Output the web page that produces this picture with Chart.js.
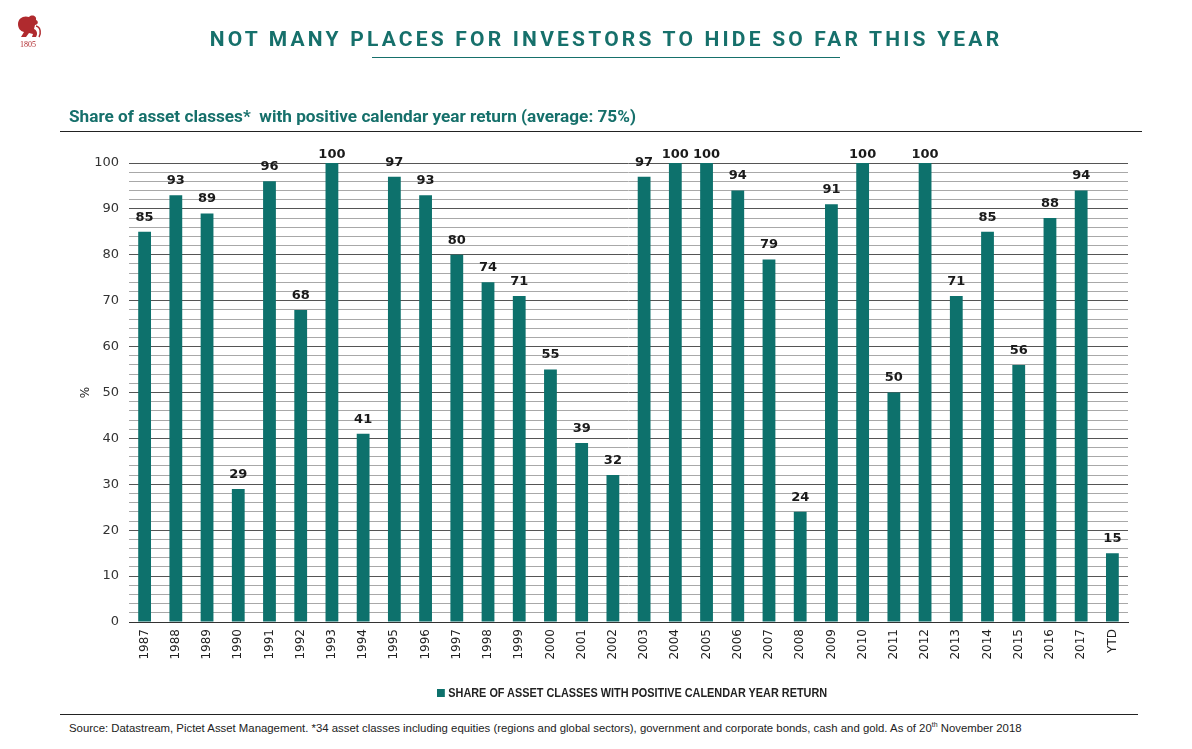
<!DOCTYPE html>
<html>
<head>
<meta charset="utf-8">
<script src="https://cdn.jsdelivr.net/npm/chart.js@4.4.1/dist/chart.umd.min.js"></script>
<style>
  html, body { margin: 0; padding: 0; background: #fff; width: 1192px; height: 749px; overflow: hidden; }
  #wrap { position: relative; width: 1192px; height: 749px; }
  #c { position: absolute; left: 0; top: 0; }
  .title { position: absolute; left: 0; width: 1212px; top: 27px; text-align: center; font-family: Roboto, "Liberation Sans", sans-serif; font-weight: 700; font-size: 21px; letter-spacing: 3.2px; color: #16706b; }
  .tline { position: absolute; left: 372px; top: 57px; width: 468px; height: 1px; background: #16706b; }
  .sub { position: absolute; left: 69px; top: 106px; font-family: Roboto, "Liberation Sans", sans-serif; font-weight: 700; font-size: 17.2px; color: #16706b; white-space: nowrap; }
  .sline { position: absolute; left: 60px; top: 131px; width: 1082px; height: 1px; background: #222; }
  .legend { position: absolute; top: 686px; left: 437px; font-family: "Liberation Sans", sans-serif; font-weight: 700; font-size: 12.5px; color: #222; white-space: nowrap; transform: scaleX(0.87); transform-origin: 0 0; }
  .legend span.sw { display: inline-block; width: 9px; height: 8px; background: #0d716c; margin-right: 4px; }
  .fline { position: absolute; left: 60px; top: 714px; width: 1078px; height: 1px; background: #222; }
  .foot { position: absolute; left: 69px; top: 721px; font-family: "Liberation Sans", sans-serif; font-size: 11.5px; color: #222; white-space: nowrap; transform: scaleX(0.988); transform-origin: 0 0; }
  .foot sup { font-size: 7px; }
  .logo { position: absolute; left: 12px; top: 12px; width: 32px; height: 38px; }
</style>
</head>
<body>
<div id="wrap">
  <canvas id="c" width="1192" height="690"></canvas>
  <svg class="logo" viewBox="0 0 32 38">
    <path d="M6 12 C6 6 12 3 17 5 C20 2 25 4 24 8 C27 9 26 13 23 13 L22 17 C25 18 26 22 24 25 L20 25 L21 22 L17 21 L14 25 L9 25 L12 20 C8 19 6 16 6 12 Z" fill="#b02a2e"/>
    <path d="M24 14 C29 15 29 22 27 25" stroke="#b02a2e" stroke-width="1.5" fill="none"/>
    <text x="16" y="35" text-anchor="middle" font-family="Liberation Serif, serif" font-size="8" fill="#b02a2e">1805</text>
  </svg>
  <div class="title">NOT MANY PLACES FOR INVESTORS TO HIDE SO FAR THIS YEAR</div>
  <div class="tline"></div>
  <div class="sub">Share of asset classes*&nbsp; with positive calendar year return (average: 75%)</div>
  <div class="sline"></div>
  <div class="legend"><span class="sw"></span>SHARE OF ASSET CLASSES WITH POSITIVE CALENDAR YEAR RETURN</div>
  <div class="fline"></div>
  <div class="foot">Source: Datastream, Pictet Asset Management. *34 asset classes including equities (regions and global sectors), government and corporate bonds, cash and gold. As of 20<sup>th</sup> November 2018</div>
</div>
<script>
const categories = ["1987","1988","1989","1990","1991","1992","1993","1994","1995","1996","1997","1998","1999","2000","2001","2002","2003","2004","2005","2006","2007","2008","2009","2010","2011","2012","2013","2014","2015","2016","2017","YTD"];
const shareValues = [85,93,89,29,96,68,100,41,97,93,80,74,71,55,39,32,97,100,100,94,79,24,91,100,50,100,71,85,56,88,94,15];
const seriesName = "SHARE OF ASSET CLASSES WITH POSITIVE CALENDAR YEAR RETURN";
const yTicks = [0,10,20,30,40,50,60,70,80,90,100];

const BAR = "#0d716c";

const valueLabels = {
  id: "valueLabels",
  afterDatasetsDraw(chart) {
    const ctx = chart.ctx;
    const meta = chart.getDatasetMeta(0);
    const top = chart.chartArea.top;
    ctx.save();
    ctx.font = "bold 13px 'DejaVu Sans', Verdana, sans-serif";
    ctx.fillStyle = "#1a1a1a";
    ctx.textAlign = "center";
    ctx.textBaseline = "bottom";
    meta.data.forEach((bar, i) => {
      const yb = Math.max(bar.y - 8, top - 2);
      ctx.fillText(String(shareValues[i]), bar.x, yb);
    });
    ctx.restore();
  }
};

const pctLabel = {
  id: "pctLabel",
  afterDraw(chart) {
    const ctx = chart.ctx;
    const y = chart.scales.y;
    ctx.save();
    ctx.translate(86, (y.top + y.bottom) / 2);
    ctx.rotate(-Math.PI / 2);
    ctx.font = "12px 'DejaVu Sans', sans-serif";
    ctx.fillStyle = "#222";
    ctx.textAlign = "center";
    ctx.textBaseline = "middle";
    ctx.fillText("%", 0, 0);
    ctx.restore();
  }
};

new Chart(document.getElementById("c"), {
  type: "bar",
  data: {
    labels: categories,
    datasets: [{
      label: seriesName,
      data: shareValues,
      backgroundColor: BAR,
      borderWidth: 0,
      barPercentage: 0.41,
      categoryPercentage: 1.0
    }]
  },
  options: {
    responsive: false,
    animation: false,
    devicePixelRatio: 1,
    layout: { padding: { top: 163, left: 60, right: 64, bottom: 0 } },
    plugins: {
      legend: { display: false },
      title: { display: false },
      tooltip: { enabled: false }
    },
    scales: {
      x: {
        afterFit(s) { s.height = 68; },
        grid: { display: false, drawTicks: false },
        border: { display: true, color: "#333", width: 1 },
        ticks: {
          autoSkip: false,
          minRotation: 90,
          maxRotation: 90,
          padding: 7,
          color: "#222",
          font: { family: "'DejaVu Sans', Verdana, sans-serif", size: 12 }
        }
      },
      y: {
        min: 0,
        max: 100,
        afterFit(s) { s.width = 69; },
        afterBuildTicks(s) {
          const t = [];
          for (let v = 0; v <= 100; v += 2) t.push({ value: v });
          s.ticks = t;
        },
        border: { display: false },
        grid: {
          drawTicks: false,
          color: (c) => (c.tick && c.tick.value % 10 === 0) ? "#555" : "#a8a8a8",
          lineWidth: 1
        },
        ticks: {
          autoSkip: false,
          padding: 10,
          color: "#333",
          font: { family: "'DejaVu Sans', Verdana, sans-serif", size: 13 },
          callback: (v) => yTicks.includes(v) ? String(v) : ""
        }
      }
    }
  },
  plugins: [valueLabels, pctLabel]
});
</script>
</body>
</html>
